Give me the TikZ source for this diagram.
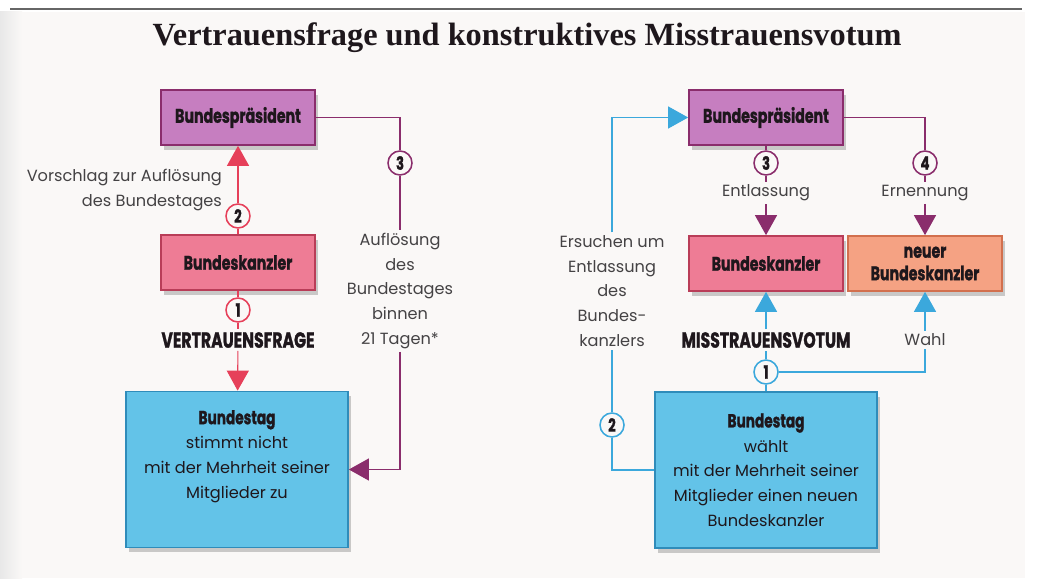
\documentclass[tikz,border=0pt]{standalone}
\usepackage{fontspec}
\setmainfont{Poppins}
\newfontfamily\titlefont{Liberation Serif}
\newfontfamily\condfont[FakeStretch=0.72,BoldFeatures={FakeBold=1.2}]{Poppins}
\usetikzlibrary{arrows.meta,shadows}
\definecolor{Paper}{HTML}{FAF8F7}
\definecolor{Ink}{HTML}{1E171C}
\definecolor{TextGray}{HTML}{444244}
\definecolor{Plum}{HTML}{8A2D6C}
\definecolor{PlumFill}{HTML}{C67EC0}
\definecolor{Rose}{HTML}{E6405A}
\definecolor{RoseFill}{HTML}{EE7C95}
\definecolor{RoseLine}{HTML}{B93D58}
\definecolor{Peach}{HTML}{F5A283}
\definecolor{PeachLine}{HTML}{D2704E}
\definecolor{Sky}{HTML}{63C3E8}
\definecolor{SkyLine}{HTML}{2F8CBA}
\definecolor{Arrow}{HTML}{3BA8DC}

\begin{document}
\begin{tikzpicture}[x=0.025cm,y=-0.025cm,
    box/.style={draw=#1,line width=1.2pt,minimum width=3.85cm,minimum height=1.375cm,
      align=center,text=Ink,font=\condfont\bfseries\fontsize{14}{16}\selectfont,
      drop shadow={opacity=.4,shadow xshift=2pt,shadow yshift=-3.5pt}},
    tagbox/.style={draw=SkyLine,fill=Sky,line width=1.2pt,minimum width=5.55cm,
      minimum height=3.9cm,align=center,text=Ink,font=\fontsize{11.5}{17.6}\selectfont,
      drop shadow={opacity=.4,shadow xshift=2pt,shadow yshift=-3.5pt}},
    num/.style={circle,draw=#1,line width=1.1pt,fill=Paper,inner sep=0pt,minimum size=0.6cm,
      text=Ink,font=\condfont\bfseries\fontsize{13}{13}\selectfont},
    lab/.style={align=center,inner sep=2pt,text=TextGray,font=\fontsize{11.5}{17.6}\selectfont},
    vote/.style={inner sep=2pt,text=Ink,font=\condfont\bfseries\fontsize{15.5}{15}\selectfont},
    tip/.style={-{Triangle[length=0.5cm,width=0.55cm]}}]
  \useasboundingbox (0,0) rectangle (1062,578);
  \fill[white] (0,0) rectangle (1062,578);
  \fill[Paper] (0,12) rectangle (1025,578);
  \shade[left color=gray!18,right color=Paper] (0,12) rectangle (22,578);
  \draw[gray!80!black,line width=1.2pt] (10,9) -- (1022,9);

  \node[font=\titlefont\bfseries\fontsize{23}{25}\selectfont,text=Ink] (title) at (527,38)
    {Vertrauensfrage und konstruktives Misstrauensvotum};

  % Vertrauensfrage
  \node[box=Plum,fill=PlumFill] (bp1) at (238,117.5) {Bundespräsident};
  \node[box=RoseLine,fill=RoseFill] (bk1) at (238,262.5) {Bundeskanzler};
  \node[tagbox] (bt1) at (237,469.5)
    {{\condfont\bfseries\fontsize{13.5}{14}\selectfont Bundestag}\\stimmt nicht\\
     mit der Mehrheit seiner\\Mitglieder zu\\[4pt]};
  \node[num=Rose] (c2) at (238,216) {2};
  \node[num=Rose] (c1) at (238,310) {1};
  \node[num=Plum] (c3) at (400,163) {3};
  \node[vote] (vf) at (238,340) {VERTRAUENSFRAGE};
  \node[lab,align=right,anchor=east] (vor) at (225,190)
    {Vorschlag zur Auflösung\\des Bundestages};
  \node[lab] (auf) at (400,291)
    {Auflösung\\des\\Bundestages\\binnen\\21 Tagen*};

  \draw[Rose,line width=0.8pt] (bk1) -- (c2);
  \draw[Rose,line width=0.8pt,tip] (c2) -- (bp1);
  \draw[Rose,line width=0.8pt] (bk1) -- (c1);
  \draw[Rose,line width=0.8pt] (c1) -- (vf);
  \draw[Rose,line width=0.8pt,tip] (vf) -- (bt1);
  \draw[Plum,line width=0.8pt] (bp1.east) -| (c3);
  \draw[Plum,line width=0.8pt] (c3) -- (auf);
  \draw[Plum,line width=0.8pt,tip] (auf) |- (bt1.east);

  % Misstrauensvotum
  \node[box=Plum,fill=PlumFill] (bp2) at (766,117.5) {Bundespräsident};
  \node[box=RoseLine,fill=RoseFill] (bk2) at (766,263.5) {Bundeskanzler};
  \node[box=PeachLine,fill=Peach] (nbk) at (925,263.5) {neuer\\Bundeskanzler};
  \node[tagbox] (bt2) at (766,470)
    {{\condfont\bfseries\fontsize{13.5}{14}\selectfont Bundestag}\\wählt\\
     mit der Mehrheit seiner\\Mitglieder einen neuen\\Bundeskanzler};
  \node[num=Plum] (c3r) at (766,163) {3};
  \node[num=Plum] (c4r) at (925,163) {4};
  \node[num=Arrow] (c1r) at (766,372) {1};
  \node[num=Arrow] (c2r) at (612,425) {2};
  \node[lab] (ent) at (766,193) {Entlassung};
  \node[lab] (ern) at (925,193) {Ernennung};
  \node[vote] (mv) at (766,340) {MISSTRAUENSVOTUM};
  \node[lab] (wahl) at (925,340) {Wahl};
  \node[lab] (ers) at (612,291)
    {Ersuchen um\\Entlassung\\des\\Bundes-\\kanzlers};

  \draw[Arrow,line width=0.8pt,tip] (ers) |- (bp2.west);
  \draw[Arrow,line width=0.8pt] (bt2.west) -| (c2r);
  \draw[Arrow,line width=0.8pt] (c2r) -- (ers);
  \draw[Plum,line width=0.8pt] (bp2) -- (c3r);
  \draw[Plum,line width=0.8pt] (c3r) -- (ent);
  \draw[Plum,line width=0.8pt,tip] (ent) -- (bk2);
  \draw[Plum,line width=0.8pt] (bp2.east) -| (c4r);
  \draw[Plum,line width=0.8pt] (c4r) -- (ern);
  \draw[Plum,line width=0.8pt,tip] (ern) -- (nbk);
  \draw[Arrow,line width=0.8pt] (bt2) -- (c1r);
  \draw[Arrow,line width=0.8pt] (c1r) -- (mv);
  \draw[Arrow,line width=0.8pt,tip] (mv) -- (bk2);
  \draw[Arrow,line width=0.8pt] (c1r) -| (wahl);
  \draw[Arrow,line width=0.8pt,tip] (wahl) -- (nbk);
\end{tikzpicture}
\end{document}
